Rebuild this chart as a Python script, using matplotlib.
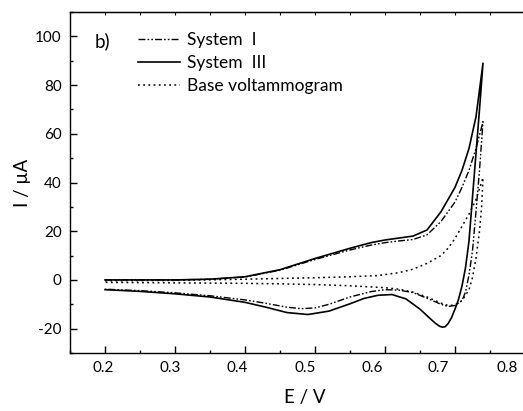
import numpy as np
import matplotlib.pyplot as plt
import matplotlib.transforms as mtransforms
from matplotlib.ticker import MultipleLocator

plt.rcParams['font.family'] = ['Lato', 'DejaVu Sans']
plt.rcParams['axes.unicode_minus'] = False

# System III (solid): forward then reverse scan
e3_fwd = [0.20, 0.25, 0.30, 0.35, 0.40, 0.45, 0.50, 0.55, 0.58, 0.60, 0.62, 0.64, 0.66, 0.68, 0.70, 0.71, 0.72, 0.73, 0.74]
i3_fwd = [0.0, 0.0, 0.0, 0.3, 1.3, 4.2, 8.8, 13.0, 15.3, 16.4, 17.2, 18.0, 20.5, 28.0, 38.0, 45.0, 54.0, 67.0, 89.0]
e3_rev = [0.74, 0.735, 0.73, 0.725, 0.72, 0.715, 0.71, 0.705, 0.70, 0.695, 0.69, 0.686, 0.682, 0.678, 0.672, 0.665, 0.65, 0.63, 0.61, 0.59, 0.57, 0.55, 0.52, 0.49, 0.46, 0.43, 0.40, 0.35, 0.30, 0.25, 0.20]
i3_rev = [89.0, 70.0, 52.0, 34.0, 16.0, 5.0, -2.5, -8.0, -12.0, -15.5, -18.0, -19.2, -19.4, -19.0, -17.8, -16.0, -12.0, -7.8, -6.0, -6.3, -7.6, -9.8, -12.8, -14.2, -13.4, -11.2, -9.2, -7.0, -5.7, -4.7, -4.0]

# System I (dash-dot-dot)
e1_fwd = [0.20, 0.25, 0.30, 0.35, 0.40, 0.45, 0.50, 0.55, 0.58, 0.60, 0.62, 0.64, 0.66, 0.68, 0.70, 0.71, 0.72, 0.73, 0.74]
i1_fwd = [0.0, 0.0, 0.0, 0.3, 1.2, 4.0, 8.4, 12.3, 14.3, 15.3, 16.0, 16.6, 18.5, 24.0, 32.0, 38.0, 45.0, 54.0, 65.0]
e1_rev = [0.74, 0.735, 0.73, 0.725, 0.72, 0.715, 0.71, 0.70, 0.69, 0.68, 0.66, 0.64, 0.62, 0.60, 0.58, 0.55, 0.52, 0.50, 0.48, 0.46, 0.43, 0.40, 0.35, 0.30, 0.25, 0.20]
i1_rev = [65.0, 45.0, 28.0, 12.0, 2.0, -5.0, -8.5, -10.5, -10.9, -10.0, -7.5, -5.2, -4.2, -4.0, -4.8, -7.0, -10.0, -11.5, -11.8, -11.2, -9.6, -8.2, -6.5, -5.3, -4.4, -3.8]

# Base voltammogram (dotted)
eb_fwd = [0.20, 0.30, 0.40, 0.45, 0.50, 0.55, 0.59, 0.62, 0.64, 0.66, 0.68, 0.69, 0.70, 0.71, 0.72, 0.73, 0.74]
ib_fwd = [-0.3, -0.2, 0.3, 0.6, 0.9, 1.3, 1.8, 3.0, 4.4, 6.8, 10.0, 13.0, 17.0, 22.0, 27.0, 33.0, 42.0]
eb_rev = [0.74, 0.738, 0.735, 0.73, 0.725, 0.72, 0.71, 0.70, 0.69, 0.68, 0.66, 0.64, 0.62, 0.60, 0.55, 0.50, 0.45, 0.40, 0.30, 0.20]
ib_rev = [42.0, 30.0, 20.0, 9.0, 1.0, -4.0, -8.5, -10.3, -10.5, -9.5, -7.0, -5.0, -3.8, -3.2, -2.4, -1.9, -1.6, -1.4, -1.2, -1.0]

x_ticks = [0.2, 0.3, 0.4, 0.5, 0.6, 0.7, 0.8]
x_labels = ['0.2', '0.3', '0.4', '0.5', '0.6', '0.7', '0.8']
# the labels in the original drift left of their ticks
x_label_shift = [-2, -5, -8, -10, -13, -17, -18]

fig = plt.figure(figsize=(5.23, 4.11), dpi=100)
ax = fig.add_axes([70 / 523, 58 / 411, 469 / 523, 341 / 411])

ax.plot(e1_fwd + e1_rev, i1_fwd + i1_rev, color='black', lw=1.0,
        dashes=(5, 1.5, 1.2, 1.5, 1.2, 1.5), label='System  I')
ax.plot(e3_fwd + e3_rev, i3_fwd + i3_rev, color='black', lw=1.2, label='System  III')
ax.plot(eb_fwd + eb_rev, ib_fwd + ib_rev, color='black', lw=1.1,
        dashes=(1.2, 2.2), label='Base voltammogram')

ax.set_xlim(0.15, 0.82)
ax.set_ylim(-30, 110)
ax.set_xticks(x_ticks)
ax.set_xticklabels(x_labels)
ax.xaxis.set_minor_locator(MultipleLocator(0.05))
ax.set_yticks(np.arange(-20, 101, 20))
ax.yaxis.set_minor_locator(MultipleLocator(10))
ax.tick_params(which='major', direction='in', length=5, width=1.0, labelsize=11, pad=6)
ax.tick_params(which='minor', direction='in', length=2.5, width=1.0)
for s in ax.spines.values():
    s.set_linewidth(1.0)

for lab, dx in zip(ax.get_xticklabels(), x_label_shift):
    lab.set_transform(lab.get_transform() + mtransforms.ScaledTranslation(dx / 100, 0, fig.dpi_scale_trans))

top = ax.secondary_xaxis('top')
top.set_xticks(np.arange(0.15, 0.82, 0.05))
top.tick_params(direction='in', length=2.5, width=0.8, labeltop=False)

ax.set_xlabel('E / V', fontsize=13.5, labelpad=10)
ax.set_ylabel('I / µA', fontsize=13.5, labelpad=3)

ax.text(0.053, 0.915, 'b)', transform=ax.transAxes, fontsize=13.5, va='center')
ax.legend(loc='upper left', bbox_to_anchor=(0.145, 0.94), frameon=False,
          fontsize=12.5, handlelength=2.4, handletextpad=0.4, labelspacing=0.38,
          borderpad=0, borderaxespad=0)

plt.savefig('out.png', dpi=100)
